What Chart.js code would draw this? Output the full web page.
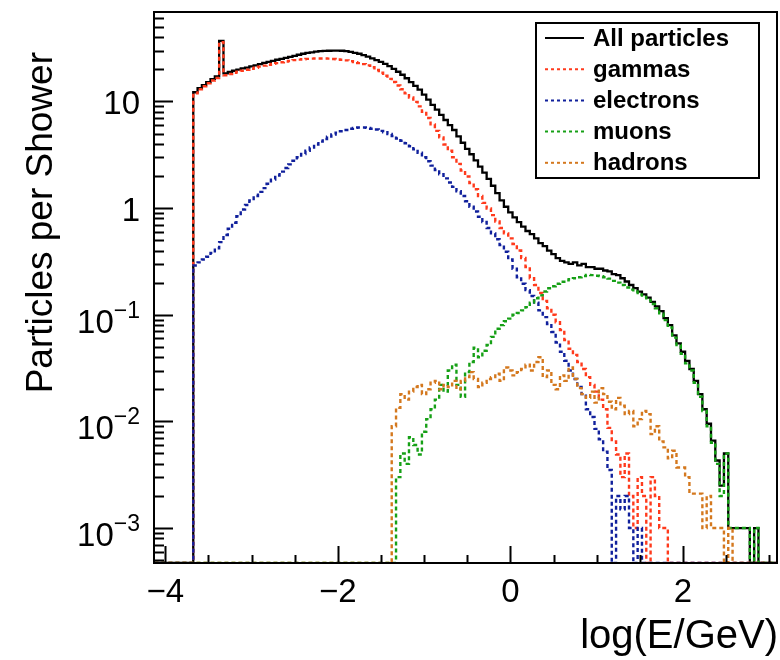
<!DOCTYPE html>
<html>
<head>
<meta charset="utf-8">
<script src="https://cdn.jsdelivr.net/npm/chart.js@4.4.1/dist/chart.umd.min.js"></script>
<style>
  html, body { margin: 0; padding: 0; background: #fff; }
  #wrap { width: 780px; height: 660px; }
</style>
</head>
<body>
<div id="wrap"><canvas id="showerPlot" width="780" height="660"></canvas></div>
<script>
// histogram binning in log10(E/GeV): 144 bins of 0.05 starting at -4.125
var binLow = -4.125;
var binWidth = 0.05;

var allParticles = [
  0,0,0,0,0,0,0,0,0,0,
  12.2,13.3,14.2,15.2,16.2,17.2,37,18.3,18.9,19.4,
  19.9,20.4,20.8,21.3,21.8,22.4,23.0,23.5,24.0,24.6,
  25.1,25.6,26.2,26.8,27.4,28.0,28.5,28.9,29.3,29.6,
  29.8,29.9,30.0,30.0,29.9,29.6,29.2,28.6,28.0,27.2,
  26.3,25.4,24.4,23.5,22.5,21.4,20.2,19.0,17.8,16.5,
  15.2,14.0,12.9,11.6,10.4,9.3,8.4,7.5,6.7,6.0,
  5.4,4.7,4.1,3.6,3.2,2.8,2.45,2.15,1.88,1.62,
  1.38,1.18,1.03,0.91,0.82,0.74,0.67,0.61,0.57,0.52,
  0.47,0.44,0.40,0.37,0.34,0.32,0.31,0.30,0.31,0.29,
  0.30,0.28,0.28,0.27,0.27,0.26,0.255,0.24,0.235,0.22,
  0.205,0.19,0.178,0.165,0.155,0.145,0.132,0.12,0.108,0.093,
  0.080,0.064,0.054,0.045,0.037,0.031,0.024,0.018,0.013,0.0095,
  0.0066,0.0043,0.0025,0.005,0.001,0.001,0.001,0.001,0.001,0,
  0.001,0,0,0
];

var gammas = [
  0,0,0,0,0,0,0,0,0,0,
  11.9,13.0,13.9,14.8,15.7,16.6,36,17.6,18.1,18.6,
  19.0,19.4,19.8,20.2,20.7,21.2,21.7,22.1,22.5,22.9,
  23.3,23.7,24.0,24.4,24.7,24.9,25.1,25.2,25.3,25.3,
  25.3,25.2,25.0,24.8,24.6,24.3,23.9,23.4,22.9,22.4,
  21.8,20.9,19.7,18.6,17.4,16.3,15.2,14.1,13.0,11.9,
  10.9,9.9,9.0,8.0,7.0,6.1,5.3,4.6,3.95,3.45,
  3.0,2.6,2.25,1.98,1.72,1.5,1.3,1.12,0.99,0.86,
  0.75,0.65,0.58,0.52,0.46,0.40,0.34,0.28,0.22,0.19,
  0.16,0.135,0.115,0.10,0.085,0.072,0.058,0.048,0.042,0.036,
  0.031,0.026,0.022,0.019,0.016,0.013,0.0087,0.0065,0.0049,0.003,
  0.005,0.002,0.001,0.003,0.002,0,0.003,0.002,0.001,0.001,
  0,0,0,0,0,0,0,0,0,0,
  0,0,0,0,0,0,0,0,0,0,
  0,0,0,0
];

var electrons = [
  0,0,0,0,0,0,0,0,0,0,
  0.29,0.31,0.33,0.35,0.38,0.42,0.48,0.56,0.64,0.73,
  0.84,0.97,1.07,1.18,1.30,1.42,1.54,1.69,1.85,2.02,
  2.2,2.38,2.57,2.78,3.0,3.22,3.45,3.7,3.95,4.2,
  4.45,4.68,4.9,5.1,5.25,5.4,5.55,5.65,5.7,5.7,
  5.65,5.55,5.45,5.3,5.15,4.95,4.75,4.5,4.28,4.05,
  3.8,3.55,3.3,3.0,2.75,2.5,2.28,2.08,1.9,1.74,
  1.58,1.44,1.3,1.16,1.03,0.93,0.83,0.74,0.65,0.58,
  0.51,0.45,0.39,0.33,0.27,0.225,0.195,0.17,0.15,0.13,
  0.11,0.095,0.082,0.069,0.055,0.045,0.037,0.03,0.025,0.021,
  0.018,0.013,0.011,0.0085,0.0068,0.0052,0.0035,0,0.002,0.0015,
  0.002,0.001,0,0.001,0,0,0,0,0,0,
  0,0,0,0,0,0,0,0,0,0,
  0,0,0,0,0,0,0,0,0,0,
  0,0,0,0
];

var muons = [
  0,0,0,0,0,0,0,0,0,0,
  0,0,0,0,0,0,0,0,0,0,
  0,0,0,0,0,0,0,0,0,0,
  0,0,0,0,0,0,0,0,0,0,
  0,0,0,0,0,0,0,0,0,0,
  0,0,0,0,0,0,0,0.003,0.005,0.004,
  0.0071,0.006,0.0049,0.008,0.0105,0.013,0.016,0.022,0.019,0.03,
  0.034,0.022,0.017,0.029,0.036,0.049,0.04,0.046,0.052,0.062,
  0.074,0.08,0.087,0.092,0.10,0.104,0.11,0.118,0.13,0.143,
  0.152,0.165,0.177,0.185,0.195,0.204,0.21,0.215,0.22,0.225,
  0.23,0.236,0.235,0.232,0.23,0.225,0.218,0.208,0.2,0.19,
  0.18,0.172,0.165,0.155,0.147,0.138,0.126,0.115,0.103,0.089,
  0.076,0.061,0.052,0.043,0.035,0.03,0.023,0.017,0.0125,0.009,
  0.0063,0.004,0.002,0.005,0.001,0.001,0.001,0.001,0.001,0,
  0.001,0,0,0
];

var hadrons = [
  0,0,0,0,0,0,0,0,0,0,
  0,0,0,0,0,0,0,0,0,0,
  0,0,0,0,0,0,0,0,0,0,
  0,0,0,0,0,0,0,0,0,0,
  0,0,0,0,0,0,0,0,0,0,
  0,0,0,0,0,0,0.009,0.0134,0.018,0.016,
  0.019,0.021,0.022,0.018,0.02,0.023,0.024,0.02,0.022,0.021,
  0.024,0.02,0.024,0.026,0.029,0.025,0.021,0.023,0.025,0.026,
  0.028,0.024,0.032,0.03,0.027,0.029,0.031,0.034,0.03,0.036,
  0.04,0.026,0.03,0.022,0.02,0.027,0.024,0.032,0.025,0.0205,
  0.018,0.0166,0.019,0.015,0.0205,0.018,0.0153,0.013,0.0166,0.014,
  0.0117,0.0125,0.009,0.0105,0.0125,0.0117,0.0076,0.009,0.0065,0.0057,
  0.0045,0.0053,0.0037,0.0037,0.003,0.0021,0.0021,0.0021,0.001,0.002,
  0.001,0.001,0.001,0,0.001,0,0,0,0,0,
  0,0,0,0
];

var seriesNames = ["All particles", "gammas", "electrons", "muons", "hadrons"];

// axis ticks
var xTickValues = [-4, -2, 0, 2];
var xTickLabels = ["\u22124", "\u22122", "0", "2"];
var yTickValues = [0.001, 0.01, 0.1, 1, 10];
var yTickBase = ["10", "10", "10", "1", "10"];
var yTickExp = ["\u22123", "\u22122", "\u22121", "", ""];

var xMin = -4.13, xMax = 3.09;
var yMin = 4.7e-4, yMax = 69;

var FONT = '"Liberation Sans", Arial, Helvetica, sans-serif';

// empty bins sit on the bottom of the frame, like ROOT does on a log axis
function histPoints(counts) {
  var pts = [];
  for (var i = 0; i < counts.length; i++) {
    pts.push({ x: binLow + i * binWidth, y: counts[i] > 0 ? counts[i] : yMin });
  }
  var last = counts[counts.length - 1];
  pts.push({ x: binLow + counts.length * binWidth, y: last > 0 ? last : yMin });
  return pts;
}

function histSet(label, counts, color, dash, width, order) {
  return {
    label: label,
    data: histPoints(counts),
    borderColor: color,
    backgroundColor: color,
    borderWidth: width,
    borderDash: dash,
    stepped: "after",
    pointRadius: 0,
    fill: false,
    order: order
  };
}

var framePlugin = {
  id: "rootFrame",
  afterDatasetsDraw: function (chart) {
    var ctx = chart.ctx, ca = chart.chartArea;
    var xs = chart.scales.x, ys = chart.scales.y;
    ctx.save();
    ctx.strokeStyle = "#000";
    ctx.lineWidth = 2;
    ctx.setLineDash([]);
    ctx.strokeRect(ca.left, ca.top, ca.right - ca.left, ca.bottom - ca.top);

    ctx.beginPath();
    // x ticks, minor every 0.5
    for (var v = -4; v <= 3.0001; v += 0.5) {
      var px = Math.round(xs.getPixelForValue(v)) + 0.5;
      var major = Math.abs(v / 2 - Math.round(v / 2)) < 1e-6;
      ctx.moveTo(px, ca.bottom);
      ctx.lineTo(px, ca.bottom - (major ? 17 : 8));
    }
    // y ticks, log decades with 2..9 minors
    for (var e = -4; e <= 1; e++) {
      for (var m = 1; m <= 9; m++) {
        var val = m * Math.pow(10, e);
        if (val < yMin || val > yMax) continue;
        var py = Math.round(ys.getPixelForValue(val)) + 0.5;
        ctx.moveTo(ca.left, py);
        ctx.lineTo(ca.left + (m === 1 ? 19 : 10), py);
      }
    }
    ctx.stroke();

    // tick labels
    ctx.fillStyle = "#000";
    ctx.font = "33px " + FONT;
    ctx.textAlign = "center";
    ctx.textBaseline = "alphabetic";
    xTickValues.forEach(function (xv, i) {
      ctx.fillText(xTickLabels[i], xs.getPixelForValue(xv), 602);
    });

    ctx.textAlign = "left";
    yTickValues.forEach(function (yv, i) {
      var py = ys.getPixelForValue(yv);
      ctx.font = "33px " + FONT;
      var wb = ctx.measureText(yTickBase[i]).width;
      ctx.font = "23px " + FONT;
      var we = yTickExp[i] ? ctx.measureText(yTickExp[i]).width : 0;
      var x0 = 140 - wb - we;
      ctx.font = "33px " + FONT;
      if (yTickExp[i]) {
        ctx.fillText(yTickBase[i], x0, py + 18);
        ctx.font = "23px " + FONT;
        ctx.fillText(yTickExp[i], x0 + wb, py + 3);
      } else {
        ctx.fillText(yTickBase[i], x0, py + 13);
      }
    });
    ctx.restore();
  },
  afterDraw: function (chart) {
    var ctx = chart.ctx;
    ctx.save();
    ctx.fillStyle = "#000";
    // axis titles
    ctx.textAlign = "right";
    ctx.textBaseline = "alphabetic";
    ctx.font = "40px " + FONT;
    ctx.fillText("log(E/GeV)", 778, 648);
    ctx.font = "37px " + FONT;
    ctx.translate(52, 52);
    ctx.rotate(-Math.PI / 2);
    ctx.fillText("Particles per Shower", 0, 0);
    ctx.restore();

    // legend box
    ctx.save();
    var bx = 536, by = 23, bw = 223, bh = 155;
    ctx.fillStyle = "#fff";
    ctx.fillRect(bx, by, bw, bh);
    ctx.strokeStyle = "#000";
    ctx.lineWidth = 2;
    ctx.strokeRect(bx, by, bw, bh);
    ctx.font = "bold 24px " + FONT;
    ctx.textAlign = "left";
    ctx.textBaseline = "middle";
    chart.data.datasets.forEach(function (ds, i) {
      var ry = by + 15 + i * 31.2;
      ctx.beginPath();
      ctx.strokeStyle = ds.borderColor;
      ctx.lineWidth = 2;
      ctx.setLineDash(i === 0 ? [] : [3, 3]);
      ctx.moveTo(545, ry);
      ctx.lineTo(584, ry);
      ctx.stroke();
      ctx.fillStyle = "#000";
      ctx.fillText(ds.label, 593, ry + 1);
    });
    ctx.restore();
  }
};

var ctx = document.getElementById("showerPlot").getContext("2d");
new Chart(ctx, {
  type: "line",
  data: {
    datasets: [
      histSet(seriesNames[0], allParticles, "#000000", [], 2.3, 5),
      histSet(seriesNames[1], gammas, "#ff3a1c", [4, 3], 2.4, 4),
      histSet(seriesNames[2], electrons, "#10209c", [4, 3], 2.4, 3),
      histSet(seriesNames[3], muons, "#16a016", [4, 3], 2.4, 2),
      histSet(seriesNames[4], hadrons, "#d4781e", [4, 3], 2.4, 1)
    ]
  },
  options: {
    responsive: false,
    animation: false,
    devicePixelRatio: 1,
    layout: { padding: { top: 12, right: 3, left: 0, bottom: 0 } },
    plugins: {
      legend: { display: false },
      tooltip: { enabled: false },
      title: { display: false }
    },
    scales: {
      x: {
        type: "linear",
        min: xMin,
        max: xMax,
        grid: { display: false },
        border: { display: false },
        ticks: { display: false },
        afterFit: function (scale) { scale.height = 97; }
      },
      y: {
        type: "logarithmic",
        min: yMin,
        max: yMax,
        grid: { display: false },
        border: { display: false },
        ticks: { display: false },
        afterFit: function (scale) { scale.width = 154; }
      }
    }
  },
  plugins: [framePlugin]
});
</script>
</body>
</html>
